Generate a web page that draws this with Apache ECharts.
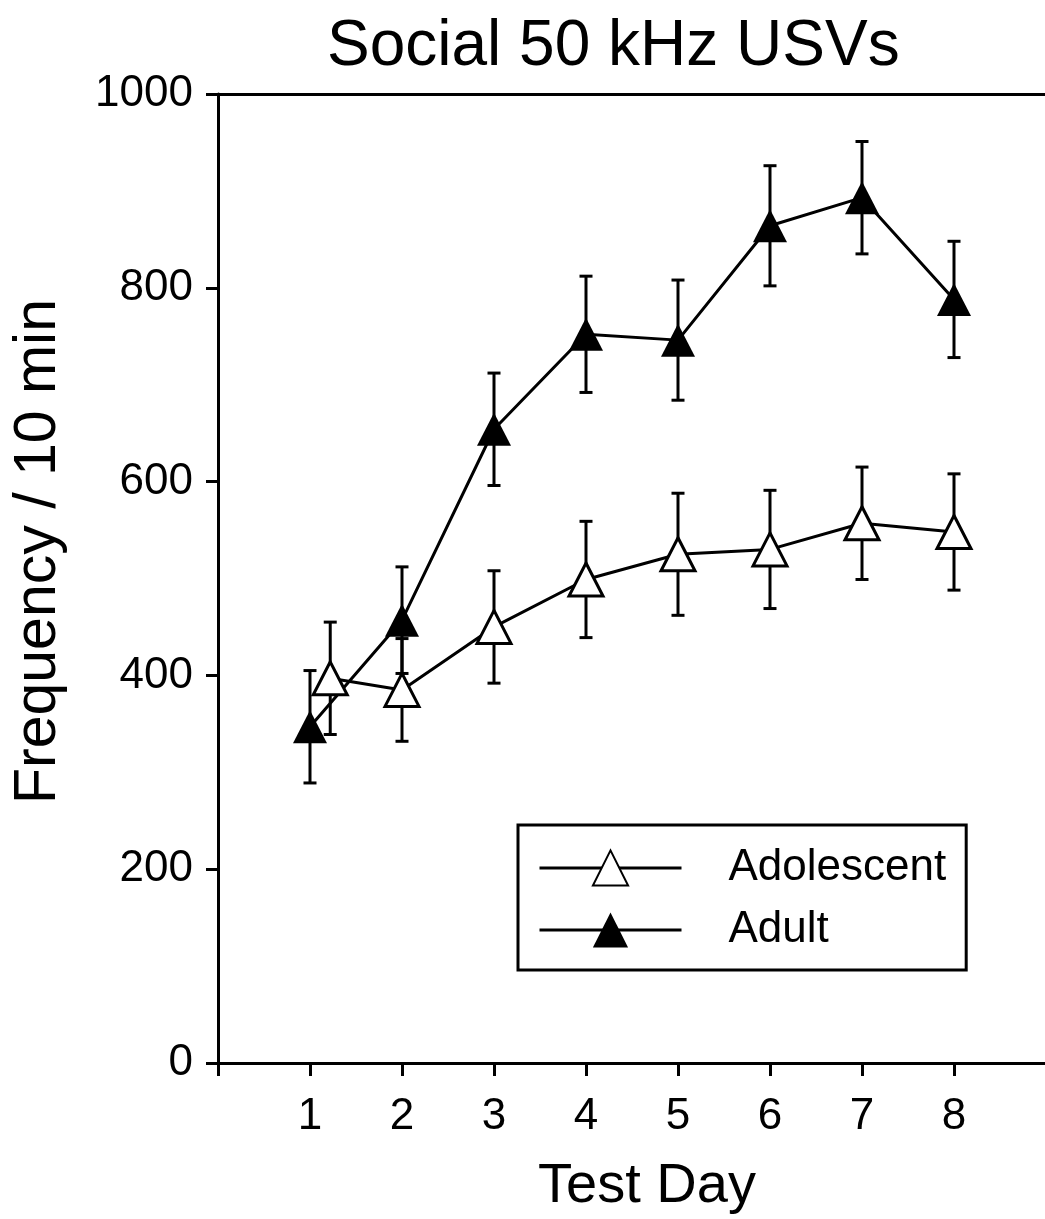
<!DOCTYPE html>
<html>
<head>
<meta charset="utf-8">
<script src="https://cdn.jsdelivr.net/npm/echarts@6/dist/echarts.min.js"></script>
<style>
html,body{margin:0;padding:0;background:#fff;}
#chart{width:1045px;height:1219px;}
</style>
</head>
<body>
<div id="chart"></div>
<script>
// ---- data ----
const dayTicks = [1, 2, 3, 4, 5, 6, 7, 8];
const adolescentDays = [1.22, 2, 3, 4, 5, 6, 7, 8];
const adolescentMean = [397, 385, 450, 499, 525, 530, 557, 548];
const adolescentSem  = [58, 53, 58, 60, 63, 61, 58, 60];
const adultDays = [1, 2, 3, 4, 5, 6, 7, 8];
const adultMean = [347, 457, 654, 752, 746, 864, 893, 788];
const adultSem  = [58, 55, 58, 60, 62, 62, 58, 60];
const yTicks = [0, 200, 400, 600, 800, 1000];

const FONT = '"Liberation Sans", Arial, Helvetica, sans-serif';

function pts(xs, ys) { return xs.map((x, i) => [x, ys[i]]); }
function errPts(xs, ys, es) { return xs.map((x, i) => [x, ys[i], es[i]]); }

function errorBarRender(params, api) {
  const x = api.value(0), y = api.value(1), e = api.value(2);
  const top = api.coord([x, y + e]);
  const bot = api.coord([x, y - e]);
  const cw = 6.5;
  const st = { stroke: '#000', lineWidth: 3 };
  return {
    type: 'group',
    children: [
      { type: 'line', shape: { x1: top[0], y1: top[1], x2: bot[0], y2: bot[1] }, style: st },
      { type: 'line', shape: { x1: top[0] - cw, y1: top[1], x2: top[0] + cw, y2: top[1] }, style: st },
      { type: 'line', shape: { x1: bot[0] - cw, y1: bot[1], x2: bot[0] + cw, y2: bot[1] }, style: st }
    ]
  };
}

const chart = echarts.init(document.getElementById('chart'), null, { renderer: 'canvas' });
chart.setOption({
  backgroundColor: '#fff',
  animation: false,
  title: {
    text: 'Social 50 kHz USVs',
    left: 327,
    top: 15,
    padding: 0,
    textStyle: { fontFamily: FONT, fontSize: 64, fontWeight: 'normal', color: '#000' }
  },
  grid: {
    left: 218, right: -1, top: 94, bottom: 156,
    outerBoundsMode: 'none',
    containLabel: false,
    show: false
  },
  legend: {
    orient: 'vertical',
    left: 518, top: 825,
    padding: [21, 20, 18, 20],
    borderColor: '#000', borderWidth: 3,
    itemWidth: 142, itemHeight: 44, itemGap: 18,
    lineStyle: { width: 3, color: '#000' },
    textStyle: { fontFamily: FONT, fontSize: 44, color: '#000', padding: [0, 0, 0, 42] },
    data: ['Adolescent', 'Adult']
  },
  xAxis: [
    {
      type: 'value', min: 0, max: 9, interval: 1,
      name: 'Test Day', nameLocation: 'middle', nameGap: 96,
      nameTextStyle: { fontFamily: FONT, fontSize: 56, color: '#000', padding: [0, 0, 0, 30] },
      axisLine: { show: true, lineStyle: { color: '#000', width: 3 } },
      axisTick: { show: true, inside: false, length: 13, lineStyle: { color: '#000', width: 3 } },
      axisLabel: {
        margin: 32, fontFamily: FONT, fontSize: 44, color: '#000',
        formatter: v => dayTicks.indexOf(v) >= 0 ? String(v) : ''
      },
      splitLine: { show: false }
    },
    {
      type: 'value', min: 0, max: 9, position: 'top',
      axisLine: { show: true, onZero: false, lineStyle: { color: '#000', width: 3 } },
      axisTick: { show: false }, axisLabel: { show: false }, splitLine: { show: false }
    }
  ],
  yAxis: {
    type: 'value', min: 0, max: 1000, interval: 200,
    name: 'Frequency / 10 min', nameLocation: 'middle', nameGap: 150, nameRotate: 90,
    nameTextStyle: { fontFamily: FONT, fontSize: 59, color: '#000', padding: [0, 0, 0, 54] },
    axisLine: { show: true, lineStyle: { color: '#000', width: 3 } },
    axisTick: { show: true, inside: false, length: 12, lineStyle: { color: '#000', width: 3 } },
    axisLabel: {
      margin: 25, fontFamily: FONT, fontSize: 44, color: '#000',
      formatter: v => yTicks.indexOf(v) >= 0 ? String(v) : ''
    },
    splitLine: { show: false }
  },
  series: [
    {
      type: 'custom', name: 'adultErr', renderItem: errorBarRender, z: 1,
      encode: { x: 0, y: 1 }, data: errPts(adultDays, adultMean, adultSem), silent: true
    },
    {
      type: 'custom', name: 'adolErr', renderItem: errorBarRender, z: 1,
      encode: { x: 0, y: 1 }, data: errPts(adolescentDays, adolescentMean, adolescentSem), silent: true
    },
    {
      type: 'line', name: 'Adult', z: 2,
      data: pts(adultDays, adultMean),
      symbol: 'triangle', symbolSize: [34, 33], showAllSymbol: true,
      lineStyle: { color: '#000', width: 3 },
      itemStyle: { color: '#000', borderColor: '#000', borderWidth: 0 }
    },
    {
      type: 'line', name: 'Adolescent', z: 3,
      data: pts(adolescentDays, adolescentMean),
      symbol: 'triangle', symbolSize: [34, 33], showAllSymbol: true,
      lineStyle: { color: '#000', width: 3 },
      itemStyle: { color: '#fff', borderColor: '#000', borderWidth: 3 }
    }
  ]
});
</script>
</body>
</html>
